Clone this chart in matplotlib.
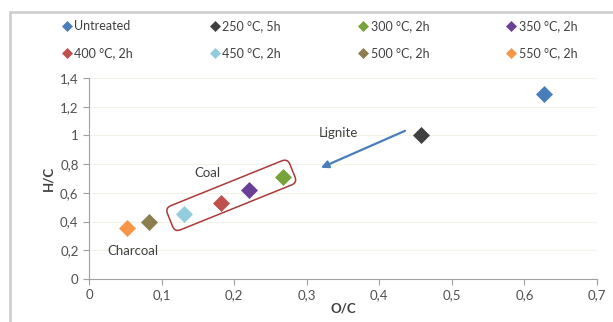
import matplotlib
matplotlib.use("Agg")
import matplotlib.pyplot as plt
from matplotlib.patches import FancyBboxPatch, Rectangle
from matplotlib.transforms import Affine2D
from matplotlib.ticker import FuncFormatter

plt.rcParams['font.family'] = ['Lato', 'DejaVu Sans']

# data
labels = ["Untreated", "250 °C, 5h", "300 °C, 2h", "350 °C, 2h",
          "400 °C, 2h", "450 °C, 2h", "500 °C, 2h", "550 °C, 2h"]
oc = [0.627, 0.457, 0.267, 0.220, 0.182, 0.131, 0.083, 0.053]
hc = [1.29, 1.00, 0.71, 0.62, 0.53, 0.45, 0.40, 0.355]
colors = ["#4a7ebb", "#404040", "#77a33a", "#6a3f96",
          "#c0504d", "#93cddd", "#8c7e4e", "#f79646"]

fig = plt.figure(figsize=(6.13, 3.22), dpi=100)
W, H = 613, 322
ax = fig.add_axes([89 / W, 43 / H, 508 / W, 201 / H])

for x, y, c, lab in zip(oc, hc, colors, labels):
    ax.plot(x, y, marker='D', ms=8.5, color=c, mec=c, mew=0.5,
            linestyle='none', label=lab, zorder=3)

ax.set_xlim(0, 0.7)
ax.set_ylim(0, 1.4)
ax.set_xticks([0, 0.1, 0.2, 0.3, 0.4, 0.5, 0.6, 0.7])
ax.set_yticks([0, 0.2, 0.4, 0.6, 0.8, 1.0, 1.2, 1.4])
comma = FuncFormatter(lambda v, p: f"{v:g}".replace('.', ','))
ax.xaxis.set_major_formatter(comma)
ax.yaxis.set_major_formatter(comma)
ax.tick_params(direction='out', length=4, width=0.8, color='#a0a0a0',
               labelsize=9.5, labelcolor='#505050')
for s in ['top', 'right']:
    ax.spines[s].set_visible(False)
for s in ['left', 'bottom']:
    ax.spines[s].set_color('#a0a0a0')
ax.grid(axis='y', color='#f2f2e6', linewidth=0.8, zorder=0)
ax.set_axisbelow(True)

ax.set_xlabel("O/C", fontsize=9.5, fontweight='bold', color='#404040', labelpad=1)
ax.set_ylabel("H/C", fontsize=9.5, fontweight='bold', color='#404040', labelpad=4)

# annotations
ax.text(0.163, 0.74, "Coal", fontsize=9.5, color='#404040', ha='center', va='center')
ax.text(0.061, 0.195, "Charcoal", fontsize=9.5, color='#404040', ha='center', va='center')
ax.text(0.344, 1.02, "Lignite", fontsize=9.5, color='#404040', ha='center', va='center')
ax.annotate("", xy=(0.316, 0.767), xytext=(0.439, 1.04),
            arrowprops=dict(arrowstyle='-|>', color='#4a7ebb', lw=1.6,
                            mutation_scale=11))

# rounded box around the coal points
cx, cy = ax.transData.transform((0.196, 0.583))
box = FancyBboxPatch((-66, -13), 132, 26,
                     boxstyle="round,pad=0,rounding_size=6",
                     transform=Affine2D().rotate_deg(22).translate(cx, cy),
                     facecolor='none', edgecolor='#a83a3a', linewidth=1.1)
fig.patches.append(box)

# legend: two rows of four, filled row by row
handles, labs = ax.get_legend_handles_labels()
order = [0, 4, 1, 5, 2, 6, 3, 7]
fig.legend([handles[i] for i in order], [labs[i] for i in order],
           loc='upper left', bbox_to_anchor=(50 / W, 1 - 9 / H),
           ncol=4, frameon=False, fontsize=9, handletextpad=0.15,
           columnspacing=6.1, markerscale=0.65, labelspacing=1.2,
           handlelength=0.9, labelcolor='#404040')

# outer chart frame
fig.patches.append(Rectangle((10 / W, -0.1), 1.2, 1 - 12 / H + 0.1,
                             transform=fig.transFigure, fill=False,
                             edgecolor='#d0d0d0', linewidth=2))

fig.savefig("out.png", dpi=100)
